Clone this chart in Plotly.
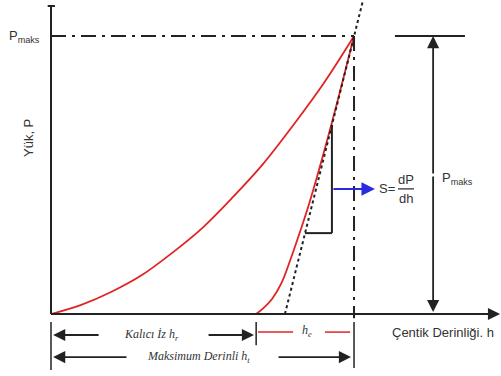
import plotly.graph_objects as go

# ---- data (h: indentation depth, P: load; P_max = 100, h_max = 100) ----
h_load = [0, 10, 20, 30, 40, 50, 60, 70, 80, 90, 100]
P_load = [0, 3.3, 8, 14, 22, 31, 42, 54, 68, 83, 100]
h_unload = [67.7, 70, 73, 76, 79, 82, 85, 92, 100]
P_unload = [0, 2, 5.5, 11, 19.5, 29, 39, 66, 100]
h_tangent = [77.2, 103]
P_tangent = [0, 113]
h_max = 100
P_max = 100
h_r = 67.7

DARK = "#222222"
RED = "#e02424"
BLUE = "#2a2ae0"

fig = go.Figure()

fig.add_trace(go.Scatter(x=h_load, y=P_load, mode="lines", line=dict(color=RED, width=1.8, shape="spline"), hoverinfo="skip"))
fig.add_trace(go.Scatter(x=h_unload, y=P_unload, mode="lines", line=dict(color=RED, width=1.8, shape="spline"), hoverinfo="skip"))
fig.add_trace(go.Scatter(x=h_tangent, y=P_tangent, mode="lines", line=dict(color=DARK, width=2, dash="3px,3px"), hoverinfo="skip"))

shapes = []
def seg(x0, y0, x1, y1, color=DARK, width=2, dash="solid"):
    shapes.append(dict(type="line", xref="x", yref="y", x0=x0, y0=y0, x1=x1, y1=y1,
                       line=dict(color=color, width=width, dash=dash), layer="above"))

# axes
seg(0, 0, 147, 0, width=2)
seg(0, 0, 0, 110.8, width=2)
seg(-1.1, 110.8, 1.3, 110.8, width=2)
# P_max dash-dot lines
seg(0, P_max, h_max, P_max, width=2, dash="15px,6px,3px,6px")
seg(h_max, P_max, h_max, -1.5, width=2, dash="15px,6px,3px,6px")
# right P_max bar
seg(113.5, P_max, 136.6, P_max, width=2)
# slope triangle
seg(92.7, 29.1, 92.7, 68.0, width=2)
seg(83.8, 29.1, 92.7, 29.1, width=2)
# fraction bar
seg(114.5, 45, 119.8, 45, width=1.2)
# bottom ticks
seg(0, -2.9, 0, -20.1, width=1.5)
seg(h_r, -2.9, h_r, -11.2, width=1.5)
seg(h_max, -2.9, h_max, -19.4, width=1.5)
# h_e red lines
seg(68.3, -6.5, 79.9, -6.5, color=RED, width=1.5)
seg(90.4, -6.5, 98.7, -6.5, color=RED, width=1.5)

ann = []
def arrow(hx, hy, tx, ty, color=DARK, width=1.8):
    ann.append(dict(x=hx, y=hy, ax=tx, ay=ty, xref="x", yref="y", axref="x", ayref="y",
                    text="", showarrow=True, arrowhead=2, arrowsize=1.35, arrowwidth=width,
                    arrowcolor=color))
def label(x, y, text, size=12, family="Liberation Sans", xanchor="center", color="#333333", angle=0):
    ann.append(dict(x=x, y=y, xref="x", yref="y", text=text, showarrow=False,
                    font=dict(size=size, family=family, color=color), xanchor=xanchor,
                    yanchor="middle", textangle=angle))

arrow(148.2, 0, 140, 0)
arrow(126.1, P_max, 126.1, 50)
arrow(126.1, 0.7, 126.1, 50)
arrow(106.9, 45, 92.7, 45, color=BLUE, width=2)
arrow(0.7, -7.55, 16.2, -7.55)
arrow(67, -7.55, 51.5, -7.55)
arrow(0.7, -15.5, 25.4, -15.5)
arrow(99, -15.5, 74.6, -15.5)

label(-8.6, P_max, "P<sub>maks</sub>", size=13)
label(128.4, 48.9, "P<sub>maks</sub>", size=13, xanchor="left")
label(-7.6, 63.3, "Yük, P", size=13, angle=-90)
label(110.9, 45, "S=", size=13)
label(117.2, 48.4, "dP", size=13)
label(117.2, 41.4, "dh", size=13)
label(33, -7.55, "<i>Kalıcı İz h<sub>r</sub></i>", size=12, family="Liberation Serif")
label(84.5, -6.0, "<i>h<sub>e</sub></i>", size=12, family="Liberation Serif")
label(48.8, -15.5, "<i>Maksimum Derinli h<sub>t</sub></i>", size=12, family="Liberation Serif")
label(111.9, -6.5, "Çentik Derinliği. h", size=13, xanchor="left")

fig.update_layout(
    width=501, height=376, margin=dict(l=0, r=0, t=0, b=0),
    paper_bgcolor="white", plot_bgcolor="white", showlegend=False,
    xaxis=dict(range=[-16.83, 148.5], visible=False, fixedrange=True),
    yaxis=dict(range=[-22.3, 112.95], visible=False, fixedrange=True),
    shapes=shapes, annotations=ann,
)

fig.write_html("out.html")
